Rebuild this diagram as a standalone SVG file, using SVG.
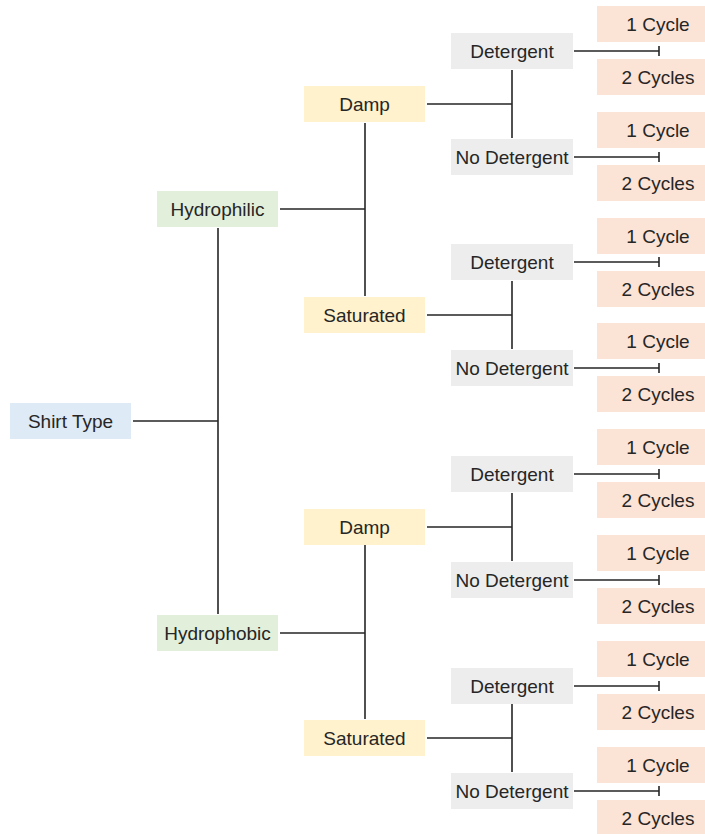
<svg xmlns="http://www.w3.org/2000/svg" width="705" height="834" viewBox="0 0 705 834">
<style>
rect{stroke:none}
.root{fill:#DEEAF6}
.l1{fill:#E2EFDA}
.l2{fill:#FFF2CC}
.det{fill:#EDEDED}
.cyc{fill:#FBE3D5}
text{font-family:"Liberation Sans",Arial,sans-serif;font-size:19px;fill:#262626;text-anchor:middle}
#connectors path{stroke:#262626;stroke-width:1.6;fill:none}
</style>
<rect width="705" height="834" fill="#FFFFFF"/>
<g id="connectors">
<path d="M133 421H218M218 228V614"/>
<path d="M280 209H365M365 123V296"/>
<path d="M280 633H365M365 545V719"/>
<path d="M427 104H512M512 70V138"/>
<path d="M427 315H512M512 281V349"/>
<path d="M427 527H512M512 493V561"/>
<path d="M427 738H512M512 704V772"/>
<path d="M574 51H659M659 46V56"/>
<path d="M574 157H659M659 152V162"/>
<path d="M574 262H659M659 257V267"/>
<path d="M574 368H659M659 363V373"/>
<path d="M574 474H659M659 469V479"/>
<path d="M574 580H659M659 575V585"/>
<path d="M574 686H659M659 681V691"/>
<path d="M574 791H659M659 786V796"/>
</g>
<g id="shirt-type"><rect class="root" x="10" y="403" width="121" height="36"/><text x="70.5" y="428">Shirt Type</text></g>
<g id="hydrophilic"><rect class="l1" x="157" y="191" width="121" height="36"/><text x="217.5" y="216">Hydrophilic</text></g>
<g id="hydrophobic"><rect class="l1" x="157" y="615" width="121" height="36"/><text x="217.5" y="640">Hydrophobic</text></g>
<g id="damp-1"><rect class="l2" x="304" y="86" width="121" height="36"/><text x="364.5" y="111">Damp</text></g>
<g id="saturated-1"><rect class="l2" x="304" y="297" width="121" height="36"/><text x="364.5" y="322">Saturated</text></g>
<g id="damp-2"><rect class="l2" x="304" y="509" width="121" height="36"/><text x="364.5" y="534">Damp</text></g>
<g id="saturated-2"><rect class="l2" x="304" y="720" width="121" height="36"/><text x="364.5" y="745">Saturated</text></g>
<g id="det-1"><rect class="det" x="451" y="33" width="122" height="36"/><text x="512" y="58">Detergent</text></g>
<g id="nodet-1"><rect class="det" x="451" y="139" width="122" height="36"/><text x="512" y="164">No Detergent</text></g>
<g id="det-2"><rect class="det" x="451" y="244" width="122" height="36"/><text x="512" y="269">Detergent</text></g>
<g id="nodet-2"><rect class="det" x="451" y="350" width="122" height="36"/><text x="512" y="375">No Detergent</text></g>
<g id="det-3"><rect class="det" x="451" y="456" width="122" height="36"/><text x="512" y="481">Detergent</text></g>
<g id="nodet-3"><rect class="det" x="451" y="562" width="122" height="36"/><text x="512" y="587">No Detergent</text></g>
<g id="det-4"><rect class="det" x="451" y="668" width="122" height="36"/><text x="512" y="693">Detergent</text></g>
<g id="nodet-4"><rect class="det" x="451" y="773" width="122" height="36"/><text x="512" y="798">No Detergent</text></g>
<g id="c1"><rect class="cyc" x="597" y="6" width="121" height="36"/><text x="658" y="31">1 Cycle</text></g>
<g id="c2"><rect class="cyc" x="597" y="59" width="121" height="36"/><text x="658" y="84">2 Cycles</text></g>
<g id="c3"><rect class="cyc" x="597" y="112" width="121" height="36"/><text x="658" y="137">1 Cycle</text></g>
<g id="c4"><rect class="cyc" x="597" y="165" width="121" height="36"/><text x="658" y="190">2 Cycles</text></g>
<g id="c5"><rect class="cyc" x="597" y="218" width="121" height="36"/><text x="658" y="243">1 Cycle</text></g>
<g id="c6"><rect class="cyc" x="597" y="271" width="121" height="36"/><text x="658" y="296">2 Cycles</text></g>
<g id="c7"><rect class="cyc" x="597" y="323" width="121" height="36"/><text x="658" y="348">1 Cycle</text></g>
<g id="c8"><rect class="cyc" x="597" y="376" width="121" height="36"/><text x="658" y="401">2 Cycles</text></g>
<g id="c9"><rect class="cyc" x="597" y="429" width="121" height="36"/><text x="658" y="454">1 Cycle</text></g>
<g id="c10"><rect class="cyc" x="597" y="482" width="121" height="36"/><text x="658" y="507">2 Cycles</text></g>
<g id="c11"><rect class="cyc" x="597" y="535" width="121" height="36"/><text x="658" y="560">1 Cycle</text></g>
<g id="c12"><rect class="cyc" x="597" y="588" width="121" height="36"/><text x="658" y="613">2 Cycles</text></g>
<g id="c13"><rect class="cyc" x="597" y="641" width="121" height="36"/><text x="658" y="666">1 Cycle</text></g>
<g id="c14"><rect class="cyc" x="597" y="694" width="121" height="36"/><text x="658" y="719">2 Cycles</text></g>
<g id="c15"><rect class="cyc" x="597" y="747" width="121" height="36"/><text x="658" y="772">1 Cycle</text></g>
<g id="c16"><rect class="cyc" x="597" y="800" width="121" height="36"/><text x="658" y="825">2 Cycles</text></g>
</svg>
